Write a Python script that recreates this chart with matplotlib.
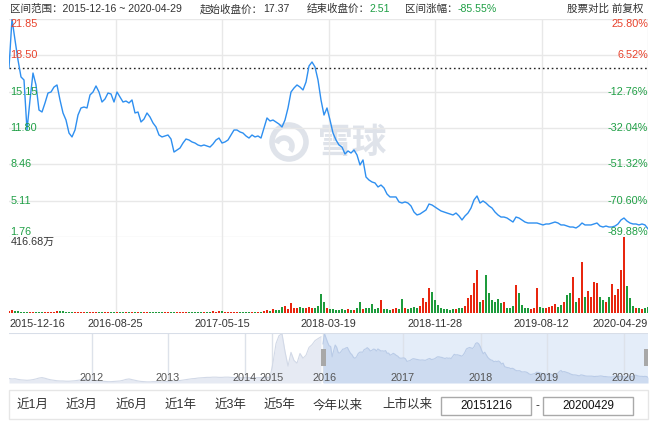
import numpy as np
import matplotlib
matplotlib.use('Agg')
import matplotlib.pyplot as plt
from matplotlib.patches import Rectangle, Circle, Arc
from matplotlib.transforms import blended_transform_factory

plt.rcParams['font.family'] = ['Liberation Sans', 'Noto Sans CJK SC']

# header info
start_date = '2015-12-16'
end_date = '2020-04-29'
start_close = 17.37
end_close = 2.51

# weekly-ish closes, 2015-12-16 .. 2020-04-29
prices = [
    17.37, 21.85, 19.92, 18.07, 16.51, 16.23, 11.62, 14.39, 16.87, 15.77,
    13.46, 13.28, 14.11, 15.03, 15.12, 15.58, 15.77, 14.39, 13.19, 12.54,
    11.34, 10.98, 11.62, 13.00, 13.65, 13.74, 13.65, 14.85, 15.12, 15.68,
    15.12, 14.20, 14.48, 15.03, 14.94, 14.20, 15.12, 14.66, 14.20, 14.29,
    14.11, 14.39, 13.19, 13.28, 12.36, 12.63, 13.19, 12.82, 12.27, 11.90,
    11.16, 10.98, 11.07, 11.16, 10.79, 9.59, 9.78, 9.96, 10.42, 10.79,
    10.70, 10.52, 10.42, 10.24, 10.15, 10.24, 10.15, 10.05, 10.33, 10.70,
    10.88, 10.42, 10.52, 10.70, 11.16, 11.62, 11.62, 11.44, 11.34, 11.07,
    10.88, 11.16, 10.98, 11.07, 10.88, 11.81, 12.73, 12.45, 12.54, 12.36,
    12.17, 11.90, 12.54, 13.65, 15.12, 15.49, 15.77, 15.58, 15.31, 16.04,
    17.52, 17.89, 17.43, 16.23, 14.39, 13.00, 13.65, 12.54, 11.34, 10.70,
    10.24, 10.05, 9.41, 9.69, 9.50, 9.78, 9.32, 8.40, 8.86, 7.29,
    7.01, 6.83, 6.74, 6.37, 6.55, 6.28, 5.72, 5.45, 5.45, 5.45,
    4.99, 4.89, 4.99, 4.89, 4.62, 4.06, 3.79, 3.88, 4.06, 4.25,
    4.80, 4.71, 4.52, 4.34, 4.16, 4.06, 3.97, 3.88, 3.79, 3.97,
    3.70, 3.33, 3.70, 3.97, 4.43, 5.17, 5.54, 4.89, 5.08, 4.89,
    4.62, 4.43, 4.06, 3.79, 3.60, 3.60, 3.51, 3.33, 3.14, 3.60,
    3.51, 3.33, 3.14, 3.05, 3.05, 3.05, 3.05, 2.96, 2.87, 2.96,
    2.96, 3.05, 3.14, 3.05, 2.87, 2.87, 2.77, 2.68, 2.68, 2.59,
    2.77, 3.05, 2.87, 2.87, 2.87, 2.96, 3.05, 2.77, 2.68, 2.77,
    2.68, 2.68, 2.77, 2.96, 3.33, 3.51, 3.23, 3.05, 2.96, 2.96,
    2.87, 2.96, 2.87, 2.51,
]

# volume, 万 shares
volumes = [
    12, 15, 10, 9, 8, 8, 7, 6, 6, 5,
    5, 5, 5, 5, 6, 8, 9, 10, 9, 6,
    5, 5, 4, 4, 4, 5, 4, 4, 4, 4,
    4, 4, 3, 3, 3, 3, 3, 3, 3, 3,
    3, 3, 3, 4, 3, 3, 3, 4, 3, 3,
    3, 3, 3, 3, 3, 3, 3, 3, 3, 3,
    3, 3, 3, 3, 3, 3, 4, 5, 10, 8,
    12, 9, 6, 7, 8, 6, 5, 6, 5, 6,
    5, 6, 6, 8, 7, 12, 14, 10, 22, 18,
    14, 35, 40, 24, 55, 30, 28, 33, 26, 30,
    35, 30, 28, 40, 104, 60, 25, 20, 22, 18,
    18, 20, 18, 22, 16, 18, 25, 60, 22, 25,
    30, 49, 20, 25, 71, 22, 20, 18, 22, 25,
    20, 77, 30, 22, 28, 35, 30, 40, 82, 60,
    137, 115, 70, 45, 30, 22, 20, 18, 20, 22,
    25, 30, 40, 80, 100, 164, 236, 60, 70, 208,
    110, 70, 60, 75, 55, 60, 30, 25, 40, 153,
    110, 45, 30, 25, 20, 30, 137, 35, 25, 30,
    35, 40, 50, 35, 45, 60, 100, 110, 197, 60,
    80, 280, 90, 120, 90, 170, 165, 90, 70, 60,
    90, 160, 100, 130, 236, 416.68, 150, 80, 40, 30,
    25, 20, 30, 35,
]
vol_max = 416.68

price_ticks = [21.85, 18.50, 15.15, 11.80, 8.46, 5.11, 1.76]
pct_labels = ['25.80%', '6.52%', '-12.76%', '-32.04%', '-51.32%', '-70.60%', '-89.88%']
date_labels = ['2015-12-16', '2016-08-25', '2017-05-15', '2018-03-19',
               '2018-11-28', '2019-08-12', '2020-04-29']

# navigator history before the selected range (2011 .. 2015-12)
nav_pre = [
    2.0, 1.8, 1.9, 1.6, 1.4, 1.3, 1.2, 1.3, 1.5, 1.8, 2.2, 2.4, 2.1, 1.7, 1.4, 1.2, 1.0, 0.9,
    0.9, 0.8, 0.8, 0.9, 1.0, 1.2, 1.4, 1.6, 1.5, 1.3, 1.2, 1.0, 0.9, 0.8, 0.7, 0.6, 0.6, 0.7, 0.8, 0.9,
    1.2, 1.6, 1.8, 1.5, 1.2, 0.9, 0.7, 0.6, 0.5, 0.5, 0.6, 0.6, 0.5, 0.5, 0.6, 0.7, 0.8, 0.9, 1.0, 1.1,
    1.3, 1.5, 1.7, 1.9, 2.0, 2.2, 2.3, 2.4, 2.5, 2.5, 2.6, 2.6, 2.5, 2.5, 2.6, 2.6, 2.5, 2.4, 2.4, 2.3,
    2.3, 2.4, 2.4, 2.3, 2.3, 2.4, 2.4, 2.5, 2.5, 2.6,
    9.0, 17.5, 21.0, 21.9, 14.0, 7.5, 13.6, 10.0, 8.8, 13.1, 11.0, 12.3, 15.8, 17.0, 18.8, 19.7, 20.5,
]
nav_years = ['2012', '2013', '2014', '2015', '2016', '2017', '2018', '2019', '2020']
buttons = ['近1月', '近3月', '近6月', '近1年', '近3年', '近5年', '今年以来', '上市以来']

RED = '#e8402a'
GREEN = '#1f9f45'
GRID = '#e8e8e8'
TXT = '#333333'

W, H = 659, 428
fig = plt.figure(figsize=(W / 100, H / 100), dpi=100)


def frac(l, t, r, b):
    return [l / W, 1 - b / H, (r - l) / W, (b - t) / H]


# pixel overlay (background layer)
ax_bg = fig.add_axes([0, 0, 1, 1])
ax_bg.set_xlim(0, W)
ax_bg.set_ylim(H, 0)
ax_bg.axis('off')

# watermark
ax_bg.add_patch(Circle((289, 142), 17, fill=False, lw=4, ec='#dfe3ea'))
ax_bg.add_patch(Arc((284, 146), 16, 16, theta1=200, theta2=40, lw=4, color='#dfe3ea'))
ax_bg.text(353, 143, '雪球', fontsize=25, color='#dfe3ea', ha='center', va='center',
           family=['Noto Sans CJK SC'], fontweight='bold')

# header
r = fig.canvas.get_renderer()


def chain(x, y, parts, size=7.6):
    for s, c in parts:
        t = ax_bg.text(x, y, s, color=c, fontsize=size, ha='left', va='center')
        x += t.get_window_extent(renderer=r).width


chg = (end_close / start_close - 1) * 100
chain(10, 9, [('区间范围：%s ~ %s' % (start_date, end_date), TXT)])
chain(200, 9, [('起始收盘价：', TXT), ('%.2f' % start_close, TXT)])
chain(307, 9, [('结束收盘价：', TXT), ('%.2f' % end_close, GREEN)])
chain(405, 9, [('区间涨幅：', TXT), ('%.2f%%' % chg, GREEN)])
ax_bg.text(643, 9, '股票对比 前复权', fontsize=7.6, color=TXT, ha='right', va='center')

# bottom buttons row
ax_bg.add_patch(Rectangle((9, 390), 639, 29, fill=False, ec='#e6e6e6', lw=1))
btn_x = [17, 66, 116, 165, 215, 264, 313, 382]
for bx, b in zip(btn_x, buttons):
    ax_bg.text(bx, 405, b, fontsize=9, color=TXT, ha='left', va='center')
ax_bg.add_patch(Rectangle((441, 397), 90, 18, fc='white', ec='#a9a9a9', lw=1))
ax_bg.add_patch(Rectangle((543, 397), 90, 18, fc='white', ec='#a9a9a9', lw=1))
ax_bg.text(486, 406, start_date.replace('-', ''), fontsize=8.4, color='#111', ha='center', va='center')
ax_bg.text(537, 406, '-', fontsize=8.4, color=TXT, ha='center', va='center')
ax_bg.text(588, 406, end_date.replace('-', ''), fontsize=8.4, color='#111', ha='center', va='center')

# price panel
n = len(prices)
x = np.arange(n)
ax_p = fig.add_axes(frac(9, 19, 648, 237))
ax_p.patch.set_alpha(0)
ax_p.set_xlim(0, n - 1)
ax_p.set_ylim(price_ticks[-1], price_ticks[0])
ax_p.axis('off')
for v in price_ticks:
    ax_p.axhline(v, color=GRID, lw=1, zorder=0)
for i in range(1, 7):
    ax_p.axvline((n - 1) * i / 6, color=GRID, lw=1, zorder=0)
ax_p.axhline(start_close, color='#222', lw=1, ls=(0, (1.2, 2)), zorder=1)
ax_p.plot(x, prices, color='#2e8ff0', lw=1, zorder=2)

tr = blended_transform_factory(ax_p.transAxes, ax_p.transData)
for i, (v, pl) in enumerate(zip(price_ticks, pct_labels)):
    c = RED if v > start_close else GREEN
    va = 'top' if i == 0 else ('bottom' if i == len(price_ticks) - 1 else 'center')
    ax_p.text(0.002, v, '%.2f' % v, color=c, fontsize=7.8, ha='left', va=va, transform=tr, zorder=3)
    ax_p.text(1.0, v, pl, color=c, fontsize=7.8, ha='right', va=va, transform=tr, zorder=3)

# volume panel
ax_v = fig.add_axes(frac(9, 237, 648, 313))
ax_v.patch.set_alpha(0)
ax_v.set_xlim(0, n - 1)
ax_v.set_ylim(0, vol_max)
for i in range(1, 7):
    ax_v.axvline((n - 1) * i / 6, color=GRID, lw=1, zorder=0)
ax_v.axhline(0, color='#e0e0e0', lw=1, zorder=0)
up = np.diff(np.array(prices), prepend=prices[0]) >= 0
ax_v.bar(x, volumes, width=0.55, color=np.where(up, '#e8260f', '#1e9b3c'), lw=0, zorder=2)
ax_v.text(0.002, 0.93, '%.2f万' % vol_max, transform=ax_v.transAxes, fontsize=7.8,
          color=TXT, ha='left', va='center')
for s in ax_v.spines.values():
    s.set_visible(False)
ax_v.set_yticks([])
ax_v.set_xticks(np.linspace(0, n - 1, 7))
ax_v.set_xticklabels(date_labels, fontsize=7.8, color=TXT)
ax_v.tick_params(axis='x', length=0, pad=4)
tl = ax_v.get_xticklabels()
tl[0].set_ha('left')
tl[-1].set_ha('right')

# navigator
f_pre = (321 - 9) / 639
f0 = (323 - 9) / 639
ax_n = fig.add_axes(frac(9, 333, 648, 383))
ax_n.patch.set_alpha(0)
ax_n.set_xlim(0, 1)
ax_n.set_ylim(0, 22.2)
ax_n.axis('off')
ax_n.axvspan(f0, 1, color='#e4edf9', lw=0, zorder=0)
year_px = [92, 168, 245, 272, 323, 403, 481, 547, 624]
for px, yl in zip(year_px, nav_years):
    xf = (px - 9) / 639
    ax_n.axvline(xf, color='#dde2ea', lw=1, zorder=1)
    ax_n.text(xf + (0.003 if yl == '2016' else 0), 0.1, yl, transform=blended_transform_factory(ax_n.transData, ax_n.transAxes),
              fontsize=7.8, color='#555', ha='center', va='center', zorder=5)
pre_x = np.linspace(0, f_pre, len(nav_pre))
ax_n.fill_between(pre_x, nav_pre, color='#e6eaf3', lw=0, zorder=2)
ax_n.plot(pre_x, nav_pre, color='#d2d9e7', lw=0.8, zorder=3)
main_x = np.linspace(f0, 1, n)
ax_n.fill_between(main_x, prices, color='#cddbf0', lw=0, zorder=2)
ax_n.plot(main_x, prices, color='#b9cbe7', lw=0.8, zorder=3)
ax_n.axhline(22.2, color='#d8dee8', lw=1.5, zorder=4)

# navigator handles (top layer)
ax_top = fig.add_axes([0, 0, 1, 1])
ax_top.set_xlim(0, W)
ax_top.set_ylim(H, 0)
ax_top.axis('off')
ax_top.patch.set_alpha(0)
ax_top.add_patch(Rectangle((321, 349), 5, 17, color='#a8a8a8', lw=0))
ax_top.add_patch(Rectangle((644, 349), 4, 17, color='#a8a8a8', lw=0))

fig.savefig('out.png', dpi=100)
